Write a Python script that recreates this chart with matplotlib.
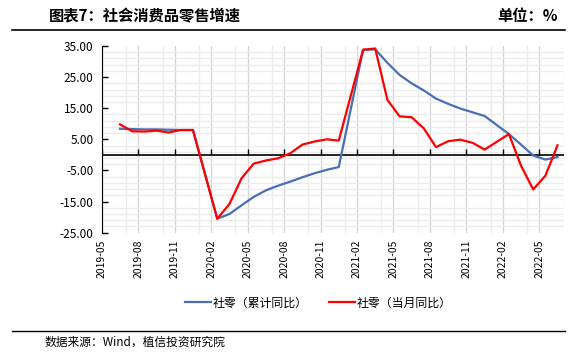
import numpy as np
import pandas as pd
import matplotlib
matplotlib.use("Agg")
import matplotlib.pyplot as plt
from matplotlib.lines import Line2D

plt.rcParams['font.family'] = ['Noto Sans CJK SC', 'DejaVu Sans']
plt.rcParams['axes.unicode_minus'] = False

# 数据（月度，1月无单独数据）
months = ["2019-06", "2019-07", "2019-08", "2019-09", "2019-10", "2019-11", "2019-12",
          "2020-02", "2020-03", "2020-04", "2020-05", "2020-06", "2020-07", "2020-08",
          "2020-09", "2020-10", "2020-11", "2020-12",
          "2021-02", "2021-03", "2021-04", "2021-05", "2021-06", "2021-07", "2021-08",
          "2021-09", "2021-10", "2021-11", "2021-12",
          "2022-02", "2022-03", "2022-04", "2022-05", "2022-06"]
leiji = [8.4, 8.3, 8.2, 8.2, 8.1, 8.0, 8.0,
         -20.5, -19.0, -16.2, -13.5, -11.4, -9.9, -8.6, -7.2, -5.9, -4.8, -3.9,
         33.8, 33.9, 29.6, 25.7, 23.0, 20.7, 18.1, 16.4, 14.9, 13.7, 12.5,
         6.7, 3.3, -0.2, -1.5, -0.7]
dangyue = [9.8, 7.6, 7.5, 7.8, 7.2, 8.0, 8.0,
           -20.5, -15.8, -7.5, -2.8, -1.8, -1.1, 0.5, 3.3, 4.3, 5.0, 4.6,
           33.8, 34.2, 17.7, 12.4, 12.1, 8.5, 2.5, 4.4, 4.9, 3.9, 1.7,
           6.7, -3.5, -11.1, -6.7, 3.1]
tick_labels = ["2019-05", "2019-08", "2019-11", "2020-02", "2020-05", "2020-08",
               "2020-11", "2021-02", "2021-05", "2021-08", "2021-11", "2022-02", "2022-05"]

start = pd.Period("2019-05", freq="M")
def month_idx(s):
    return (pd.Period(s, freq="M") - start).n

x = np.array([month_idx(m) for m in months]) + 0.5   # 点位于月份中间
xt = [month_idx(t) for t in tick_labels]

fig = plt.figure(figsize=(5.86, 3.54), dpi=100)
ax = fig.add_axes([101.8/586, 1-232.7/354, (563.6-101.8)/586, (232.7-46)/354])

ax.plot(x, leiji, color='#4A6EB6', lw=1.6, label='社零（累计同比）')
ax.plot(x, dangyue, color='#FF0000', lw=1.6, label='社零（当月同比）')

ax.set_xlim(0, 38)
ax.set_ylim(-25, 35)
ax.set_yticks(np.arange(-25, 36, 10))
ax.set_yticklabels([f"{v:.2f}" for v in np.arange(-25, 36, 10)], fontsize=8.5)
ax.set_yticks(np.arange(-25, 36, 2), minor=True)
ax.set_xticks(xt)
ax.set_xticklabels(tick_labels, rotation=90, fontsize=7.5)
ax.set_xticks(np.arange(2, 39, 3), minor=True)

ax.tick_params(axis='x', which='both', length=0, pad=5)
ax.tick_params(axis='y', which='major', direction='in', length=4, width=1, pad=6)
ax.tick_params(axis='y', which='minor', length=0)

ax.grid(True, axis='x', which='major', color='#d4d4d4', lw=0.9)
ax.grid(True, axis='x', which='minor', color='#ebebeb', lw=0.9)
ax.grid(True, axis='y', which='minor', color='#ebebeb', lw=0.9)
ax.set_axisbelow(True)

for s in ['top', 'right', 'bottom']:
    ax.spines[s].set_visible(False)
ax.spines['left'].set_color('black')

# 零轴及刻度
ax.axhline(0, color='black', lw=1.2, zorder=1.5)
ax.plot(xt, [0]*len(xt), ls='none', marker=2, ms=4, mew=1, color='black', zorder=1.5)

fig.legend(loc='center', bbox_to_anchor=(318/586, 1-303/354), ncol=2, frameon=False,
           fontsize=8.6, handlelength=2.2, handletextpad=0.1, columnspacing=1.8)

# 页眉页脚
fig.text(49/586, 1-16/354, '图表7：社会消费品零售增速', fontsize=11, fontweight='bold',
         va='center', ha='left')
fig.text(558/586, 1-16/354, '单位：%', fontsize=11, fontweight='bold', va='center', ha='right')
fig.add_artist(Line2D([12/586, 565/586], [1-30/354, 1-30/354], color='black', lw=1.2))
fig.add_artist(Line2D([12/586, 565/586], [1-331/354, 1-331/354], color='black', lw=1.0))
fig.text(45/586, 1-342/354, '数据来源：Wind，植信投资研究院', fontsize=8.5, va='center', ha='left')

fig.savefig('out.png', dpi=100)
